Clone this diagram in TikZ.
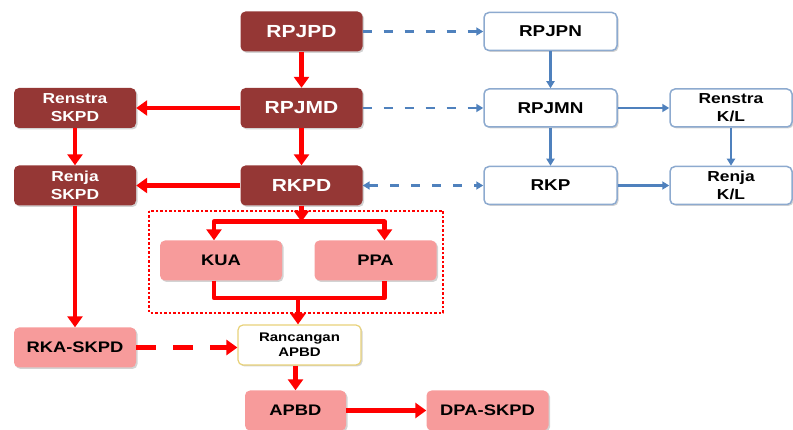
\documentclass[tikz,border=0pt]{standalone}
\usepackage{fontspec}
\setmainfont{Liberation Sans}
\newfontfamily\lebar[FakeStretch=1.2]{Liberation Sans}
\usetikzlibrary{arrows.meta,shadows}
\definecolor{merahtua}{HTML}{953735}
\definecolor{merahmuda}{HTML}{F79B9B}
\definecolor{birugaris}{HTML}{8DAACF}
\definecolor{birupanah}{HTML}{4F81BD}
\definecolor{emas}{HTML}{E8D27A}
\newcommand{\huruf}[2]{\fontsize{#1}{#2}\selectfont\lebar\bfseries}

\begin{document}
\begin{tikzpicture}[x=1pt,y=-1pt,line join=round,
    kotak/.style={rounded corners=5pt,align=center,inner sep=0pt,minimum width=122pt,minimum height=40pt,
        drop shadow={shadow xshift=1.5pt,shadow yshift=-1.5pt,opacity=0.35}},
    tua/.style={kotak,fill=merahtua,text=white,font=\huruf{17.5}{19}},
    muda/.style={kotak,fill=merahmuda,text=black,font=\huruf{15.3}{17}},
    garis/.style={kotak,draw=birugaris,line width=1.5pt,fill=white,minimum width=133pt,minimum height=38pt,font=\huruf{15.7}{17}},
    dua/.style={font=\huruf{14.5}{18}},
    panah/.style={draw=red,line width=4.5pt,-{Triangle[length=11pt,width=15pt]}},
    biru/.style={draw=birupanah,line width=2.4pt,>={Triangle[length=7pt,width=8pt]},->},
    putus/.style={dash pattern=on 9pt off 12pt}]
    \useasboundingbox (0,0) rectangle (793,430);
    % kolom daerah
    \foreach \nama/\posisi/\teks in {rpjpd/{301.5,31.5}/RPJPD,rpjmd/{301.5,108}/RPJMD,rkpd/{301.5,185.5}/RKPD}
        \node[tua] (\nama) at (\posisi) {\teks};
    \node[tua,dua] (renstraskpd) at (75,108) {Renstra\\SKPD};
    \node[tua,dua] (renjaskpd) at (75,185.5) {Renja\\SKPD};
    % kolom nasional
    \foreach \nama/\posisi/\teks in {rpjpn/{550.5,31.5}/RPJPN,rpjmn/{550.5,108}/RPJMN,rkp/{550.5,185.5}/RKP}
        \node[garis] (\nama) at (\posisi) {\teks};
    \node[garis,dua,minimum width=122pt] (renstrakl) at (731,108) {Renstra\\K/L};
    \node[garis,dua,minimum width=122pt] (renjakl) at (731,185.5) {Renja\\K/L};
    % anggaran
    \draw[red,line width=2.5pt,dotted] (149,211) rectangle (443,313);
    \foreach \nama/\posisi/\teks in {kua/{221,260.5}/KUA,ppa/{375.5,260.5}/PPA,rkaskpd/{75,347.5}/RKA-SKPD,dpaskpd/{487.5,410.5}/DPA-SKPD}
        \node[muda] (\nama) at (\posisi) {\teks};
    \node[muda,minimum width=101pt] (apbd) at (295.5,410.5) {APBD};
    \node[kotak,draw=emas,line width=1.2pt,fill=white,minimum width=123pt,font=\huruf{12.5}{15}] (rancangan) at (299.5,345) {Rancangan\\APBD};
    % panah merah
    \foreach \dari/\ke in {rpjpd/rpjmd,rpjmd/rkpd,rpjmd/renstraskpd,rkpd/renjaskpd,renstraskpd/renjaskpd,renjaskpd/rkaskpd,apbd/dpaskpd}
        \draw[panah] (\dari) -- (\ke);
    \draw[panah] (rkpd.south) -- ++(0,16) coordinate (pecah);
    \draw[panah] (pecah) -| ([xshift=-7pt]kua.north);
    \draw[panah] (pecah) -| ([xshift=9pt]ppa.north);
    \draw[red,line width=4.5pt] ([xshift=-7pt]kua.south) |- (298,298) coordinate (gabung) -| ([xshift=9pt]ppa.south);
    \draw[panah] (gabung) -- (gabung |- rancangan.north);
    \draw[panah] (rancangan.south -| apbd.north) -- (apbd.north);
    \draw[panah,dash pattern=on 20pt off 17pt] (rkaskpd.east) -- (rkaskpd.east -| rancangan.west);
    % panah biru
    \draw[biru,putus] (rpjpd) -- (rpjpn);
    \draw[biru,putus] (rpjmd) -- (rpjmn);
    \draw[biru,putus,<->] (rkpd) -- (rkp);
    \foreach \dari/\ke in {rpjpn/rpjmn,rpjmn/rkp,rpjmn/renstrakl,rkp/renjakl,renstrakl/renjakl}
        \draw[biru] (\dari) -- (\ke);
\end{tikzpicture}
\end{document}
